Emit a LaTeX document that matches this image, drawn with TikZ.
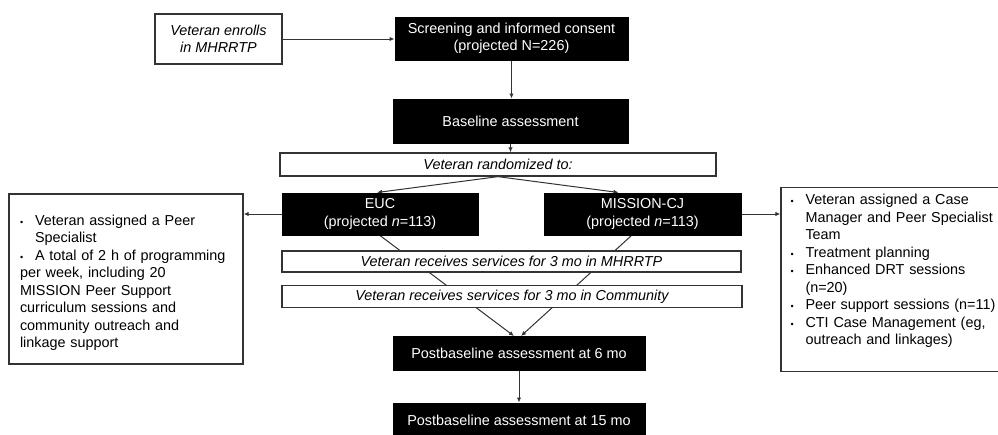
\documentclass[tikz,border=0pt]{standalone}
\usepackage{fontspec}
\setmainfont{Liberation Sans}
\usetikzlibrary{arrows.meta,backgrounds}

\newcommand{\listitem}[1]{\par\noindent\hangindent=15pt\hangafter=1\makebox[15pt][l]{\fontsize{9}{9}\selectfont\textbullet}#1}

\begin{document}
\begin{tikzpicture}[
x=1pt,y=-1pt,
every node/.style={
align=center,
inner sep=0pt,
font=\fontsize{14.4}{17.5}\selectfont
},
blackbox/.style={draw=black,fill=black,text=white,line width=1pt},
whitebox/.style={draw=black!80,fill=white,line width=1.3pt},
italic/.style={font=\fontsize{14.4}{17.5}\selectfont\itshape},
listbox/.style={whitebox,align=left},
flow/.style={draw=black!80,line width=1pt,-{Latex[length=5pt,width=4.5pt]}}
]
\useasboundingbox (0,0) rectangle (998,434);

\node[whitebox,italic,minimum width=127,minimum height=50] (enroll) at (218.5,39)
{Veteran enrolls\\in MHRRTP};

\node[blackbox,minimum width=233,minimum height=43] (screen) at (511.5,38.5)
{Screening and informed consent\\(projected N=226)};

\node[blackbox,minimum width=235,minimum height=44] (base) at (510.5,121)
{Baseline assessment};

\node[whitebox,italic,minimum width=436,minimum height=23] (rand) at (498,164.5)
{Veteran randomized to:};

\node[blackbox,minimum width=196,minimum height=42] (euc) at (380,214)
{EUC\\(projected \textit{n}=113)};

\node[blackbox,minimum width=197,minimum height=42] (mission) at (642.5,214)
{MISSION-CJ\\(projected \textit{n}=113)};

\node[whitebox,italic,minimum width=459,minimum height=21] (mhrrtp) at (511.5,261.5)
{Veteran receives services for 3 mo in MHRRTP};

\node[whitebox,italic,minimum width=460,minimum height=22] (comm) at (512,296.5)
{Veteran receives services for 3 mo in Community};

\node[blackbox,minimum width=252,minimum height=34] (post6) at (519,353.5)
{Postbaseline assessment at 6 mo};

\node[blackbox,minimum width=252,minimum height=34] (post15) at (519,420)
{Postbaseline assessment at 15 mo};

\node[listbox,text width=212,minimum width=234,minimum height=170] (euclist) at (126,279)
{\listitem{Veteran assigned a Peer\newline Specialist}
\listitem{A total of 2 h of programming\newline per week, including 20\newline MISSION Peer Support\newline curriculum sessions and\newline community outreach and\newline linkage support}};

\node[listbox,text width=214,minimum width=233,minimum height=173] (missionlist) at (897.5,279.5)
{\listitem{Veteran assigned a Case\newline Manager and Peer Specialist\newline Team}
\listitem{Treatment planning}
\listitem{Enhanced DRT sessions\newline (n=20)}
\listitem{Peer support sessions (n=11)}
\listitem{CTI Case Management (eg,\newline outreach and linkages)}
\par\noindent\rule{0pt}{23pt}};

\begin{pgfonlayer}{background}
\draw[flow] (enroll.east) -- (enroll.east -| screen.west);
\draw[flow] (screen.south) -- (screen.south |- base.north);
\draw[flow] (base.south) -- (base.south |- rand.north);
\draw[flow] (rand.south) -- ([xshift=-3]euc.north);
\draw[flow] (rand.south) -- ([xshift=-24]mission.north);
\draw[flow] (euc.west) -- (euclist.east |- euc.west);
\draw[flow] (mission.east) -- (missionlist.west |- mission.east);
\draw[flow] (euc.south) -- ([xshift=-5]post6.north);
\draw[flow] ([xshift=-11]mission.south) -- ([xshift=2]post6.north);
\draw[flow] (post6.south) -- (post15.north);
\end{pgfonlayer}

\end{tikzpicture}
\end{document}
